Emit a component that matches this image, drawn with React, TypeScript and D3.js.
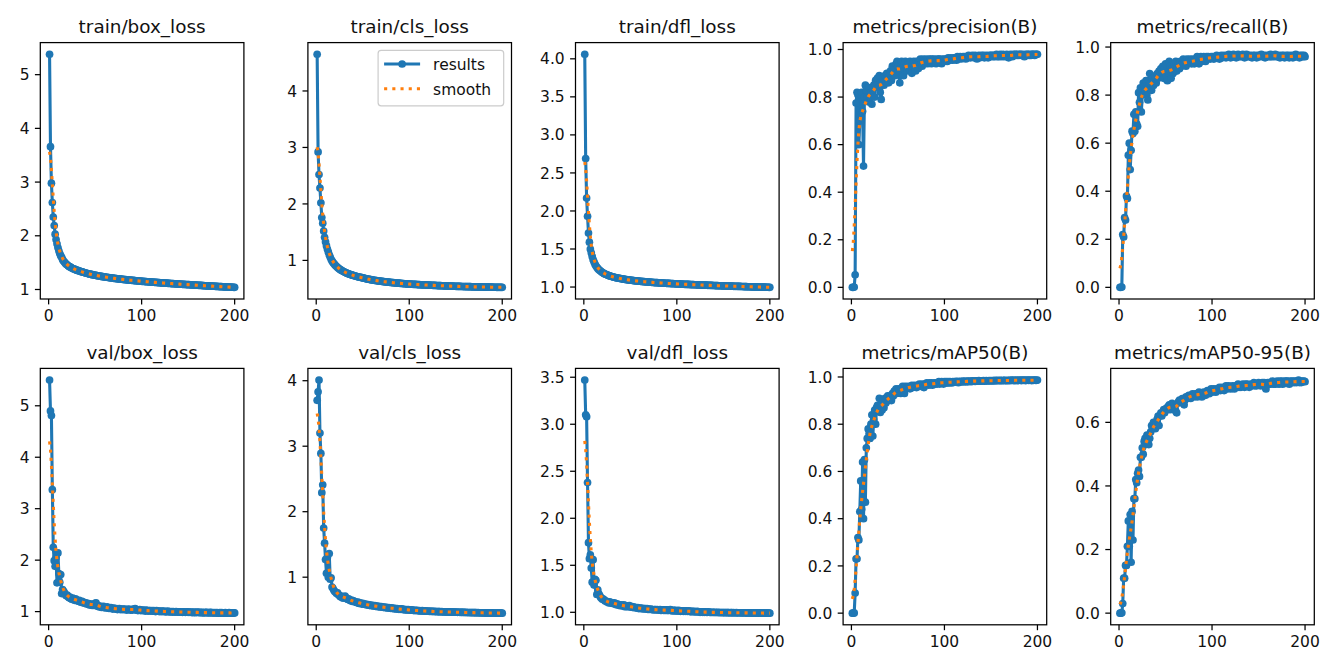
import React from 'react';
import * as d3 from 'd3';

// Training log: one value per epoch (1..200)
const epochs: number[] = d3.range(1, 201);

const trainBoxLoss = [
  5.38, 3.66, 2.98, 2.62, 2.35, 2.19, 2.03, 1.93, 1.85, 1.78,
  1.72, 1.67, 1.63, 1.60, 1.56, 1.53, 1.51, 1.49, 1.47, 1.46,
  1.44, 1.43, 1.42, 1.41, 1.40, 1.39, 1.38, 1.38, 1.37, 1.36,
  1.355, 1.35, 1.343, 1.34, 1.332, 1.327, 1.322, 1.316, 1.312, 1.306,
  1.302, 1.297, 1.291, 1.289, 1.283, 1.281, 1.276, 1.271, 1.269, 1.265,
  1.262, 1.257, 1.256, 1.251, 1.249, 1.245, 1.244, 1.239, 1.237, 1.234,
  1.233, 1.228, 1.227, 1.223, 1.221, 1.219, 1.215, 1.214, 1.212, 1.208,
  1.207, 1.204, 1.203, 1.199, 1.198, 1.196, 1.193, 1.192, 1.189, 1.188,
  1.186, 1.183, 1.182, 1.18, 1.179, 1.176, 1.175, 1.173, 1.171, 1.17,
  1.168, 1.166, 1.165, 1.163, 1.161, 1.16, 1.158, 1.156, 1.155, 1.153,
  1.152, 1.15, 1.149, 1.147, 1.146, 1.144, 1.143, 1.142, 1.14, 1.139,
  1.137, 1.136, 1.135, 1.133, 1.132, 1.131, 1.129, 1.128, 1.127, 1.125,
  1.124, 1.123, 1.122, 1.12, 1.119, 1.118, 1.117, 1.115, 1.114, 1.113,
  1.112, 1.111, 1.109, 1.108, 1.107, 1.106, 1.105, 1.103, 1.102, 1.101,
  1.1, 1.099, 1.098, 1.096, 1.095, 1.094, 1.093, 1.092, 1.091, 1.09,
  1.089, 1.088, 1.086, 1.085, 1.084, 1.083, 1.082, 1.081, 1.08, 1.079,
  1.078, 1.077, 1.076, 1.075, 1.074, 1.072, 1.071, 1.07, 1.069, 1.068,
  1.067, 1.066, 1.065, 1.064, 1.063, 1.062, 1.061, 1.06, 1.059, 1.058,
  1.057, 1.056, 1.055, 1.054, 1.053, 1.052, 1.051, 1.05, 1.049, 1.048,
  1.047, 1.046, 1.045, 1.045, 1.044, 1.043, 1.042, 1.042, 1.041, 1.04,
];

const trainClsLoss = [
  4.65, 2.92, 2.52, 2.28, 2.02, 1.76, 1.66, 1.52, 1.41, 1.33,
  1.26, 1.20, 1.15, 1.10, 1.06, 1.02, 0.99, 0.965, 0.945, 0.925,
  0.905, 0.89, 0.873, 0.86, 0.847, 0.836, 0.825, 0.815, 0.806, 0.797,
  0.789, 0.781, 0.774, 0.767, 0.761, 0.755, 0.749, 0.743, 0.738, 0.733,
  0.728, 0.723, 0.719, 0.714, 0.71, 0.706, 0.702, 0.698, 0.695, 0.691,
  0.686, 0.682, 0.678, 0.674, 0.671, 0.667, 0.664, 0.661, 0.658, 0.655,
  0.652, 0.649, 0.646, 0.644, 0.641, 0.639, 0.636, 0.634, 0.632, 0.63,
  0.627, 0.625, 0.623, 0.621, 0.619, 0.617, 0.615, 0.614, 0.612, 0.61,
  0.608, 0.607, 0.605, 0.603, 0.602, 0.6, 0.599, 0.597, 0.596, 0.594,
  0.593, 0.591, 0.59, 0.589, 0.587, 0.586, 0.585, 0.583, 0.582, 0.581,
  0.58, 0.579, 0.578, 0.577, 0.576, 0.575, 0.574, 0.573, 0.572, 0.571,
  0.57, 0.569, 0.568, 0.567, 0.567, 0.566, 0.565, 0.564, 0.564, 0.563,
  0.562, 0.561, 0.56, 0.56, 0.559, 0.558, 0.557, 0.557, 0.556, 0.555,
  0.554, 0.553, 0.553, 0.552, 0.551, 0.551, 0.55, 0.549, 0.549, 0.548,
  0.547, 0.546, 0.546, 0.545, 0.544, 0.544, 0.543, 0.542, 0.542, 0.541,
  0.541, 0.54, 0.54, 0.539, 0.539, 0.538, 0.538, 0.537, 0.537, 0.536,
  0.536, 0.535, 0.535, 0.535, 0.534, 0.534, 0.533, 0.533, 0.532, 0.532,
  0.532, 0.531, 0.531, 0.53, 0.53, 0.53, 0.529, 0.529, 0.529, 0.528,
  0.528, 0.528, 0.527, 0.527, 0.527, 0.526, 0.526, 0.526, 0.526, 0.525,
  0.525, 0.525, 0.525, 0.524, 0.524, 0.524, 0.524, 0.523, 0.523, 0.523,
];

const trainDflLoss = [
  4.06, 2.69, 2.17, 1.93, 1.71, 1.59, 1.50, 1.45, 1.40, 1.36,
  1.33, 1.30, 1.28, 1.26, 1.245, 1.23, 1.22, 1.21, 1.20, 1.19,
  1.183, 1.176, 1.17, 1.165, 1.16, 1.155, 1.15, 1.146, 1.142, 1.138,
  1.134, 1.131, 1.128, 1.125, 1.122, 1.119, 1.117, 1.114, 1.112, 1.11,
  1.108, 1.105, 1.103, 1.101, 1.099, 1.097, 1.096, 1.094, 1.092, 1.09,
  1.089, 1.087, 1.086, 1.084, 1.083, 1.081, 1.08, 1.079, 1.077, 1.076,
  1.075, 1.074, 1.073, 1.071, 1.07, 1.069, 1.068, 1.067, 1.066, 1.065,
  1.064, 1.063, 1.062, 1.061, 1.06, 1.059, 1.058, 1.058, 1.057, 1.056,
  1.055, 1.054, 1.053, 1.053, 1.052, 1.051, 1.05, 1.05, 1.049, 1.048,
  1.047, 1.047, 1.046, 1.045, 1.045, 1.044, 1.043, 1.043, 1.042, 1.041,
  1.041, 1.04, 1.039, 1.039, 1.038, 1.038, 1.037, 1.036, 1.036, 1.035,
  1.035, 1.034, 1.034, 1.033, 1.033, 1.032, 1.031, 1.031, 1.03, 1.03,
  1.029, 1.029, 1.028, 1.028, 1.027, 1.027, 1.026, 1.026, 1.025, 1.025,
  1.024, 1.024, 1.023, 1.023, 1.022, 1.022, 1.021, 1.021, 1.02, 1.02,
  1.019, 1.019, 1.018, 1.018, 1.017, 1.017, 1.017, 1.016, 1.016, 1.015,
  1.015, 1.014, 1.014, 1.013, 1.013, 1.013, 1.012, 1.012, 1.011, 1.011,
  1.01, 1.01, 1.01, 1.009, 1.009, 1.008, 1.008, 1.008, 1.007, 1.007,
  1.006, 1.006, 1.006, 1.005, 1.005, 1.004, 1.004, 1.004, 1.003, 1.003,
  1.003, 1.002, 1.002, 1.001, 1.001, 1.001, 1.0, 1.0, 1.0, 0.999,
  0.999, 0.999, 0.998, 0.998, 0.998, 0.997, 0.997, 0.997, 0.996, 0.996,
];

const precisionB = [
  0, 0, 0.001, 0.053, 0.775, 0.82, 0.81, 0.60, 0.70, 0.81,
  0.82, 0.74, 0.51, 0.80, 0.85, 0.83, 0.80, 0.78, 0.84, 0.80,
  0.82, 0.77, 0.83, 0.85, 0.80, 0.87, 0.85, 0.88, 0.84, 0.89,
  0.82, 0.79, 0.87, 0.88, 0.85, 0.89, 0.86, 0.90, 0.88, 0.86,
  0.89, 0.91, 0.87, 0.93, 0.90, 0.92, 0.89, 0.94, 0.95, 0.93,
  0.91, 0.86, 0.93, 0.95, 0.92, 0.89, 0.94, 0.95, 0.93, 0.91,
  0.94, 0.92, 0.95, 0.93, 0.90, 0.94, 0.95, 0.93, 0.91, 0.95,
  0.94, 0.92, 0.95, 0.96, 0.94, 0.93, 0.96, 0.95, 0.94, 0.96,
  0.95, 0.94, 0.96, 0.95, 0.96, 0.94, 0.96, 0.95, 0.96, 0.95,
  0.94, 0.96, 0.95, 0.96, 0.96, 0.95, 0.94, 0.96, 0.95, 0.96,
  0.955, 0.96, 0.95, 0.965, 0.96, 0.955, 0.965, 0.96, 0.955, 0.965,
  0.96, 0.965, 0.955, 0.97, 0.96, 0.965, 0.97, 0.96, 0.965, 0.97,
  0.965, 0.97, 0.96, 0.97, 0.965, 0.975, 0.97, 0.965, 0.97, 0.975,
  0.97, 0.965, 0.975, 0.97, 0.96, 0.97, 0.975, 0.965, 0.97, 0.975,
  0.97, 0.975, 0.965, 0.97, 0.975, 0.97, 0.965, 0.975, 0.97, 0.975,
  0.975, 0.97, 0.975, 0.97, 0.975, 0.98, 0.97, 0.975, 0.97, 0.98,
  0.975, 0.97, 0.98, 0.975, 0.97, 0.975, 0.98, 0.975, 0.965, 0.975,
  0.98, 0.975, 0.97, 0.98, 0.975, 0.98, 0.98, 0.975, 0.98, 0.975,
  0.98, 0.98, 0.975, 0.98, 0.975, 0.97, 0.98, 0.975, 0.98, 0.98,
  0.975, 0.98, 0.975, 0.98, 0.98, 0.98, 0.975, 0.98, 0.98, 0.98,
];

const recallB = [
  0, 0, 0.001, 0.22, 0.21, 0.29, 0.28, 0.38, 0.37, 0.55,
  0.60, 0.49, 0.57, 0.65, 0.64, 0.72, 0.65, 0.73, 0.68, 0.67,
  0.81, 0.77, 0.83, 0.73, 0.80, 0.85, 0.84, 0.82, 0.86, 0.80,
  0.78, 0.84, 0.89, 0.85, 0.82, 0.87, 0.84, 0.86, 0.88, 0.85,
  0.89, 0.87, 0.90, 0.88, 0.91, 0.89, 0.92, 0.87, 0.91, 0.93,
  0.88, 0.86, 0.90, 0.94, 0.92, 0.87, 0.91, 0.89, 0.92, 0.91,
  0.94, 0.90, 0.92, 0.93, 0.91, 0.94, 0.92, 0.93, 0.95, 0.93,
  0.94, 0.92, 0.95, 0.93, 0.94, 0.95, 0.94, 0.93, 0.95, 0.94,
  0.93, 0.95, 0.94, 0.96, 0.95, 0.93, 0.95, 0.96, 0.94, 0.95,
  0.96, 0.95, 0.94, 0.96, 0.95, 0.96, 0.955, 0.95, 0.96, 0.955,
  0.96, 0.95, 0.955, 0.96, 0.965, 0.955, 0.96, 0.95, 0.96, 0.965,
  0.955, 0.96, 0.965, 0.96, 0.955, 0.965, 0.96, 0.97, 0.96, 0.955,
  0.965, 0.96, 0.97, 0.96, 0.965, 0.955, 0.965, 0.97, 0.96, 0.965,
  0.96, 0.965, 0.97, 0.96, 0.955, 0.965, 0.97, 0.96, 0.965, 0.96,
  0.965, 0.96, 0.955, 0.965, 0.96, 0.965, 0.96, 0.955, 0.965, 0.96,
  0.965, 0.96, 0.97, 0.965, 0.96, 0.965, 0.955, 0.96, 0.965, 0.96,
  0.965, 0.96, 0.97, 0.96, 0.965, 0.96, 0.965, 0.97, 0.96, 0.965,
  0.96, 0.965, 0.955, 0.96, 0.965, 0.96, 0.965, 0.955, 0.96, 0.965,
  0.96, 0.965, 0.955, 0.96, 0.965, 0.96, 0.955, 0.965, 0.96, 0.97,
  0.96, 0.965, 0.96, 0.955, 0.965, 0.96, 0.965, 0.96, 0.965, 0.96,
];

const valBoxLoss = [
  5.50, 4.90, 4.81, 3.37, 2.25, 1.99, 1.88, 2.05, 1.56, 2.14,
  1.74, 1.57, 1.72, 1.35, 1.43, 1.40, 1.37, 1.33, 1.31, 1.32,
  1.29, 1.27, 1.28, 1.25, 1.24, 1.26, 1.23, 1.22, 1.25, 1.23,
  1.21, 1.20, 1.22, 1.19, 1.18, 1.20, 1.17, 1.18, 1.16, 1.17,
  1.15, 1.16, 1.14, 1.13, 1.15, 1.13, 1.12, 1.14, 1.12, 1.16,
  1.17, 1.12, 1.10, 1.11, 1.09, 1.10, 1.08, 1.09, 1.10, 1.08,
  1.07, 1.08, 1.09, 1.07, 1.06, 1.07, 1.08, 1.06, 1.05, 1.07,
  1.06, 1.05, 1.06, 1.04, 1.05, 1.06, 1.04, 1.05, 1.04, 1.05,
  1.04, 1.05, 1.04, 1.03, 1.04, 1.05, 1.04, 1.03, 1.04, 1.03,
  1.05, 1.04, 1.06, 1.03, 1.04, 1.02, 1.03, 1.04, 1.02, 1.03,
  1.02, 1.03, 1.02, 1.01, 1.03, 1.02, 1.01, 1.02, 1.02, 1.01,
  1.02, 1.01, 1.02, 1.01, 1.00, 1.02, 1.01, 1.01, 1.00, 1.01,
  1.00, 1.01, 1.00, 1.01, 1.00, 0.995, 1.00, 1.01, 0.995, 1.00,
  0.995, 1.00, 0.99, 1.00, 0.995, 0.99, 1.00, 0.995, 0.99, 0.995,
  0.99, 0.995, 0.99, 0.985, 0.995, 0.99, 0.985, 0.99, 0.995, 0.985,
  0.99, 0.985, 0.99, 0.985, 0.98, 0.99, 0.985, 0.98, 0.985, 0.99,
  0.985, 0.98, 0.985, 0.98, 0.985, 0.98, 0.975, 0.985, 0.98, 0.985,
  0.98, 0.975, 0.98, 0.985, 0.98, 0.975, 0.98, 0.975, 0.98, 0.975,
  0.98, 0.975, 0.97, 0.98, 0.975, 0.98, 0.975, 0.97, 0.975, 0.98,
  0.975, 0.97, 0.975, 0.98, 0.975, 0.97, 0.975, 0.97, 0.975, 0.975,
];

const valClsLoss = [
  3.70, 3.83, 4.01, 3.20, 2.89, 2.29, 2.41, 1.75, 1.52, 1.27,
  1.06, 1.30, 1.00, 1.36, 0.97, 0.99, 0.85, 0.83, 0.80, 0.78,
  0.77, 0.75, 0.76, 0.73, 0.72, 0.70, 0.71, 0.69, 0.68, 0.70,
  0.71, 0.69, 0.67, 0.66, 0.67, 0.65, 0.64, 0.65, 0.63, 0.64,
  0.63, 0.62, 0.62, 0.61, 0.62, 0.60, 0.61, 0.60, 0.59, 0.60,
  0.59, 0.585, 0.59, 0.58, 0.575, 0.58, 0.57, 0.575, 0.565, 0.57,
  0.565, 0.56, 0.565, 0.555, 0.56, 0.55, 0.555, 0.55, 0.545, 0.55,
  0.545, 0.54, 0.545, 0.535, 0.54, 0.535, 0.53, 0.535, 0.53, 0.525,
  0.53, 0.525, 0.52, 0.525, 0.52, 0.515, 0.52, 0.515, 0.51, 0.515,
  0.51, 0.515, 0.505, 0.51, 0.505, 0.5, 0.505, 0.5, 0.505, 0.5,
  0.5, 0.495, 0.5, 0.495, 0.49, 0.495, 0.49, 0.495, 0.49, 0.487,
  0.49, 0.487, 0.485, 0.488, 0.485, 0.482, 0.485, 0.482, 0.48, 0.483,
  0.48, 0.478, 0.48, 0.477, 0.478, 0.476, 0.478, 0.475, 0.476, 0.474,
  0.475, 0.473, 0.474, 0.472, 0.473, 0.471, 0.472, 0.47, 0.471, 0.47,
  0.469, 0.47, 0.468, 0.469, 0.467, 0.468, 0.466, 0.467, 0.466, 0.465,
  0.466, 0.464, 0.465, 0.464, 0.463, 0.464, 0.462, 0.463, 0.462, 0.461,
  0.462, 0.461, 0.46, 0.461, 0.46, 0.459, 0.46, 0.459, 0.458, 0.459,
  0.458, 0.458, 0.457, 0.458, 0.457, 0.456, 0.457, 0.456, 0.456, 0.455,
  0.456, 0.455, 0.455, 0.454, 0.455, 0.454, 0.454, 0.453, 0.454, 0.453,
  0.453, 0.453, 0.452, 0.453, 0.452, 0.452, 0.452, 0.451, 0.452, 0.451,
];

const valDflLoss = [
  3.47, 3.10, 3.08, 2.38, 1.74, 1.57, 1.61, 1.47, 1.32, 1.56,
  1.29, 1.35, 1.34, 1.19, 1.24, 1.20, 1.18, 1.16, 1.15, 1.14,
  1.14, 1.13, 1.12, 1.12, 1.11, 1.11, 1.10, 1.11, 1.10, 1.10,
  1.10, 1.09, 1.10, 1.09, 1.08, 1.09, 1.08, 1.08, 1.07, 1.08,
  1.07, 1.07, 1.08, 1.06, 1.07, 1.06, 1.065, 1.06, 1.07, 1.06,
  1.055, 1.06, 1.05, 1.055, 1.05, 1.05, 1.045, 1.05, 1.04, 1.045,
  1.04, 1.045, 1.04, 1.035, 1.04, 1.04, 1.035, 1.04, 1.03, 1.035,
  1.03, 1.035, 1.03, 1.03, 1.025, 1.03, 1.03, 1.025, 1.03, 1.025,
  1.025, 1.03, 1.02, 1.025, 1.025, 1.02, 1.025, 1.02, 1.025, 1.02,
  1.02, 1.025, 1.03, 1.02, 1.015, 1.02, 1.02, 1.015, 1.02, 1.015,
  1.015, 1.02, 1.015, 1.01, 1.015, 1.015, 1.01, 1.015, 1.01, 1.015,
  1.01, 1.01, 1.015, 1.01, 1.005, 1.01, 1.01, 1.005, 1.01, 1.005,
  1.005, 1.01, 1.005, 1.005, 1.0, 1.005, 1.005, 1.0, 1.005, 1.0,
  1.005, 1.0, 1.0, 1.005, 1.0, 1.0, 0.998, 1.0, 1.0, 0.998,
  1.0, 0.998, 0.998, 1.0, 0.997, 0.998, 0.998, 0.996, 0.998, 0.997,
  0.997, 0.996, 0.998, 0.996, 0.996, 0.997, 0.995, 0.996, 0.996, 0.995,
  0.996, 0.995, 0.995, 0.996, 0.994, 0.995, 0.995, 0.994, 0.995, 0.994,
  0.994, 0.995, 0.993, 0.994, 0.994, 0.993, 0.994, 0.993, 0.993, 0.994,
  0.993, 0.992, 0.993, 0.993, 0.992, 0.993, 0.992, 0.992, 0.993, 0.992,
  0.992, 0.991, 0.992, 0.992, 0.991, 0.992, 0.991, 0.991, 0.992, 0.991,
];

const mAP50B = [
  0, 0, 0.001, 0.085, 0.23, 0.23, 0.32, 0.31, 0.43, 0.56,
  0.44, 0.64, 0.40, 0.65, 0.47, 0.70, 0.74, 0.78, 0.76, 0.74,
  0.80, 0.84, 0.75, 0.82, 0.86, 0.80, 0.87, 0.88, 0.86, 0.91,
  0.85, 0.88, 0.86, 0.90, 0.87, 0.91, 0.89, 0.91, 0.92, 0.90,
  0.91, 0.92, 0.90, 0.93, 0.92, 0.94, 0.93, 0.95, 0.93, 0.94,
  0.95, 0.94, 0.93, 0.95, 0.96, 0.95, 0.93, 0.96, 0.95, 0.955,
  0.96, 0.955, 0.95, 0.96, 0.965, 0.955, 0.96, 0.965, 0.96, 0.955,
  0.965, 0.96, 0.97, 0.965, 0.96, 0.97, 0.965, 0.955, 0.97, 0.97,
  0.975, 0.97, 0.965, 0.975, 0.97, 0.975, 0.965, 0.97, 0.975, 0.97,
  0.975, 0.97, 0.975, 0.98, 0.97, 0.975, 0.98, 0.975, 0.97, 0.98,
  0.975, 0.98, 0.975, 0.98, 0.975, 0.98, 0.978, 0.975, 0.98, 0.978,
  0.98, 0.978, 0.982, 0.98, 0.976, 0.98, 0.982, 0.979, 0.98, 0.983,
  0.98, 0.982, 0.979, 0.983, 0.981, 0.98, 0.983, 0.982, 0.98, 0.984,
  0.982, 0.983, 0.981, 0.984, 0.983, 0.982, 0.985, 0.983, 0.982, 0.984,
  0.983, 0.985, 0.982, 0.984, 0.985, 0.983, 0.984, 0.985, 0.983, 0.985,
  0.984, 0.985, 0.983, 0.986, 0.984, 0.985, 0.986, 0.984, 0.985, 0.986,
  0.985, 0.984, 0.986, 0.985, 0.986, 0.985, 0.984, 0.986, 0.985, 0.986,
  0.985, 0.986, 0.987, 0.985, 0.986, 0.985, 0.987, 0.986, 0.985, 0.986,
  0.987, 0.986, 0.985, 0.987, 0.986, 0.987, 0.985, 0.986, 0.987, 0.986,
  0.986, 0.987, 0.986, 0.985, 0.987, 0.986, 0.987, 0.986, 0.986, 0.987,
];

const mAP5095B = [
  0, 0, 0.001, 0.03, 0.11, 0.11, 0.15, 0.15, 0.21, 0.29,
  0.21, 0.31, 0.16, 0.32, 0.23, 0.36, 0.36, 0.42, 0.41, 0.44,
  0.45, 0.43, 0.49, 0.49, 0.52, 0.50, 0.54, 0.55, 0.53, 0.56,
  0.54, 0.53, 0.55, 0.57, 0.59, 0.58, 0.60, 0.59, 0.58, 0.60,
  0.61, 0.62, 0.59, 0.62, 0.63, 0.62, 0.63, 0.64, 0.63, 0.64,
  0.645, 0.64, 0.65, 0.655, 0.64, 0.65, 0.66, 0.645, 0.655, 0.64,
  0.635, 0.63, 0.66, 0.665, 0.67, 0.665, 0.67, 0.675, 0.66, 0.655,
  0.67, 0.68, 0.675, 0.68, 0.685, 0.68, 0.675, 0.685, 0.69, 0.68,
  0.685, 0.69, 0.685, 0.68, 0.69, 0.695, 0.685, 0.69, 0.68, 0.69,
  0.695, 0.69, 0.685, 0.695, 0.7, 0.695, 0.69, 0.7, 0.705, 0.695,
  0.7, 0.705, 0.7, 0.695, 0.705, 0.7, 0.705, 0.71, 0.7, 0.705,
  0.71, 0.705, 0.7, 0.71, 0.715, 0.705, 0.71, 0.715, 0.71, 0.705,
  0.71, 0.715, 0.71, 0.705, 0.715, 0.71, 0.715, 0.72, 0.71, 0.715,
  0.71, 0.715, 0.72, 0.715, 0.71, 0.72, 0.715, 0.72, 0.715, 0.71,
  0.715, 0.72, 0.715, 0.72, 0.725, 0.715, 0.72, 0.715, 0.72, 0.725,
  0.72, 0.715, 0.72, 0.725, 0.72, 0.725, 0.71, 0.705, 0.72, 0.725,
  0.72, 0.725, 0.72, 0.725, 0.73, 0.72, 0.725, 0.72, 0.725, 0.73,
  0.725, 0.72, 0.73, 0.725, 0.73, 0.72, 0.725, 0.73, 0.725, 0.73,
  0.73, 0.725, 0.72, 0.73, 0.725, 0.73, 0.725, 0.73, 0.725, 0.73,
  0.725, 0.73, 0.733, 0.725, 0.73, 0.725, 0.73, 0.728, 0.73, 0.728,
];

// Panel order: top row then bottom row
const panelTitles = [
  'train/box_loss', 'train/cls_loss', 'train/dfl_loss', 'metrics/precision(B)', 'metrics/recall(B)',
  'val/box_loss', 'val/cls_loss', 'val/dfl_loss', 'metrics/mAP50(B)', 'metrics/mAP50-95(B)',
];
const panelSeries = [
  trainBoxLoss, trainClsLoss, trainDflLoss, precisionB, recallB,
  valBoxLoss, valClsLoss, valDflLoss, mAP50B, mAP5095B,
];
const panelYTicks = [
  [1, 2, 3, 4, 5],
  [1, 2, 3, 4],
  [1.0, 1.5, 2.0, 2.5, 3.0, 3.5, 4.0],
  [0.0, 0.2, 0.4, 0.6, 0.8, 1.0],
  [0.0, 0.2, 0.4, 0.6, 0.8, 1.0],
  [1, 2, 3, 4, 5],
  [1, 2, 3, 4],
  [1.0, 1.5, 2.0, 2.5, 3.0, 3.5],
  [0.0, 0.2, 0.4, 0.6, 0.8, 1.0],
  [0.0, 0.2, 0.4, 0.6],
];
const xTicks = [0, 100, 200];
const legendLabels = ['results', 'smooth'];

const BLUE = '#1f77b4';
const ORANGE = '#ff7f0e';
const FONT = "'DejaVu Sans', 'Liberation Sans', sans-serif";
const W = 1341;
const H = 671;

// Gaussian filter (sigma in samples), edges reflected
function gaussianSmooth(v: number[], sigma: number): number[] {
  const radius = Math.floor(4 * sigma + 0.5);
  const kernel: number[] = [];
  for (let k = -radius; k <= radius; k++) kernel.push(Math.exp(-(k * k) / (2 * sigma * sigma)));
  const sum = d3.sum(kernel);
  const n = v.length;
  const idx = (i: number) => {
    while (i < 0 || i >= n) {
      if (i < 0) i = -i - 1;
      if (i >= n) i = 2 * n - i - 1;
    }
    return i;
  };
  return v.map((_, i) => {
    let acc = 0;
    for (let k = -radius; k <= radius; k++) acc += kernel[k + radius] * v[idx(i + k)];
    return acc / sum;
  });
}

const colLeft = [40.3, 307.9, 575.5, 843.1, 1110.7];
const rowTop = [42.6, 368.4];
const axW = 203.6;
const axH = 256.4;
const tickLen = 5.4;
const tickPad = 5.4;
const tickFont = 15.5;
const titleFont = 18.4;
const spineW = 1.25;

function Panel({ index }: { index: number }) {
  const values = panelSeries[index];
  const left = colLeft[index % 5];
  const top = rowTop[Math.floor(index / 5)];
  const right = left + axW;
  const bottom = top + axH;
  const smooth = gaussianSmooth(values, 3);
  const [lo, hi] = d3.extent(values.concat(smooth)) as [number, number];
  const yPad = (hi - lo) * 0.05;
  const y = d3.scaleLinear().domain([lo - yPad, hi + yPad]).range([bottom, top]);
  const x0 = epochs[0];
  const x1 = epochs[epochs.length - 1];
  const xPad = (x1 - x0) * 0.05;
  const x = d3.scaleLinear().domain([x0 - xPad, x1 + xPad]).range([left, right]);
  const line = d3.line<number>().x((_, i) => x(epochs[i])).y((d) => y(d));
  const yTicks = panelYTicks[index];
  const decimals = yTicks.some((t) => !Number.isInteger(t)) ? 1 : 0;
  const clipId = `clip-${index}`;

  return (
    <g>
      <defs>
        <clipPath id={clipId}>
          <rect x={left} y={top} width={axW} height={axH} />
        </clipPath>
      </defs>
      <rect x={left} y={top} width={axW} height={axH} fill="#ffffff" />
      <g clipPath={`url(#${clipId})`}>
        <path d={line(values) ?? ''} fill="none" stroke={BLUE} strokeWidth={3.1} strokeLinejoin="round" strokeLinecap="square" />
        {values.map((v, i) => (
          <circle key={i} cx={x(epochs[i])} cy={y(v)} r={3.85} fill={BLUE} />
        ))}
        <path d={line(smooth) ?? ''} fill="none" stroke={ORANGE} strokeWidth={3.1} strokeDasharray="3.1 5.1" strokeLinecap="butt" />
      </g>
      <rect x={left} y={top} width={axW} height={axH} fill="none" stroke="#000" strokeWidth={spineW} />
      {yTicks.map((t) => (
        <g key={`y${t}`}>
          <line x1={left - tickLen} x2={left} y1={y(t)} y2={y(t)} stroke="#000" strokeWidth={spineW} />
          <text x={left - tickLen - tickPad} y={y(t) + 5.6} textAnchor="end" fontSize={tickFont} fontFamily={FONT} fill="#111">
            {t.toFixed(decimals)}
          </text>
        </g>
      ))}
      {xTicks.map((t) => (
        <g key={`x${t}`}>
          <line x1={x(t)} x2={x(t)} y1={bottom} y2={bottom + tickLen} stroke="#000" strokeWidth={spineW} />
          <text x={x(t)} y={bottom + tickLen + tickPad + 11.4} textAnchor="middle" fontSize={tickFont} fontFamily={FONT} fill="#111">
            {t}
          </text>
        </g>
      ))}
      <text x={(left + right) / 2} y={top - 9.3} textAnchor="middle" fontSize={titleFont} fontFamily={FONT} fill="#111">
        {panelTitles[index]}
      </text>
      {index === 1 && <Legend right={right} top={top} />}
    </g>
  );
}

function Legend({ right, top }: { right: number; top: number }) {
  const bw = 125.6;
  const bh = 55.4;
  const bx = right - 7.8 - bw;
  const by = top + 7.8;
  const hx0 = bx + 6.0;
  const hx1 = bx + 42.0;
  const rows = [by + 13.6, by + 38.4];
  return (
    <g>
      <rect x={bx} y={by} width={bw} height={bh} rx={3} ry={3} fill="#ffffff" fillOpacity={0.8} stroke="#cccccc" strokeWidth={1.2} />
      <line x1={hx0} x2={hx1} y1={rows[0]} y2={rows[0]} stroke={BLUE} strokeWidth={3.1} />
      <circle cx={(hx0 + hx1) / 2} cy={rows[0]} r={3.85} fill={BLUE} />
      <line x1={hx0} x2={hx1} y1={rows[1]} y2={rows[1]} stroke={ORANGE} strokeWidth={3.1} strokeDasharray="3.1 5.1" />
      {legendLabels.map((lab, i) => (
        <text key={lab} x={bx + 55} y={rows[i] + 6.2} fontSize={tickFont} fontFamily={FONT} fill="#111">
          {lab}
        </text>
      ))}
    </g>
  );
}

export default function App() {
  return (
    <svg
      width={W}
      height={H}
      viewBox={`0 0 ${W} ${H}`}
      style={{ position: 'absolute', left: 0, top: 0, display: 'block', background: '#ffffff' }}
    >
      <rect x={0} y={0} width={W} height={H} fill="#ffffff" />
      {panelTitles.map((_, i) => (
        <Panel key={i} index={i} />
      ))}
    </svg>
  );
}
